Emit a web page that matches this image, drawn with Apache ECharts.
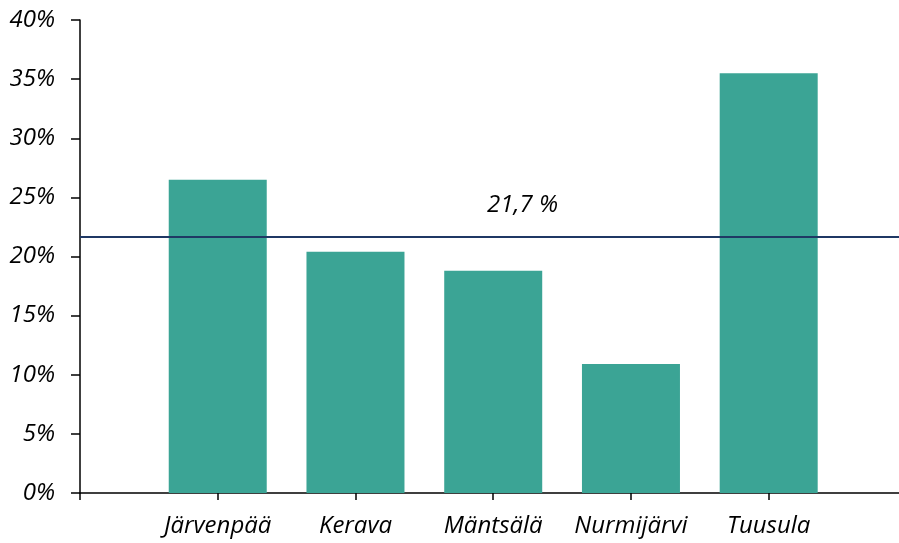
<!DOCTYPE html>
<html>
<head>
<meta charset="utf-8">
<script src="https://cdn.jsdelivr.net/npm/echarts@6/dist/echarts.min.js"></script>
<style>
  html, body { margin: 0; padding: 0; background: #fff; }
  #main { width: 899px; height: 543px; }
</style>
</head>
<body>
<div id="main"></div>
<script>
// kunnat ja osuudet (%)
var kunnat = ['Järvenpää', 'Kerava', 'Mäntsälä', 'Nurmijärvi', 'Tuusula'];
var osuudet = [26.5, 20.4, 18.8, 10.9, 35.5];
var keskiarvo = 21.7;
var yTicks = [0, 5, 10, 15, 20, 25, 30, 35, 40];

var myChart = echarts.init(document.getElementById('main'));

var tekstiTyyli = {
    fontFamily: 'Open Sans',
    fontStyle: 'italic',
    fontSize: 24,
    color: '#000'
};

// pylväät sijoitetaan kohtiin 1..5
var pylvaat = [];
for (var i = 0; i < kunnat.length; i++) {
    pylvaat.push([i + 1, osuudet[i]]);
}
var paikat = [];
for (var j = 0; j <= kunnat.length; j++) paikat.push(j);

var option = {
    animation: false,
    grid: {
        left: 80,
        right: 0,
        top: 20,
        bottom: 50
    },
    xAxis: {
        type: 'value',
        min: 0,
        max: 5.946,
        interval: 1,
        splitLine: { show: false },
        axisLine: { show: true, lineStyle: { color: '#000', width: 1.5 } },
        axisTick: { show: true, length: 7, customValues: paikat, lineStyle: { color: '#000', width: 1.5 } },
        axisLabel: Object.assign({
            margin: 21,
            customValues: paikat.slice(1),
            formatter: function (v) {
                return kunnat[Math.round(v) - 1] || '';
            }
        }, tekstiTyyli)
    },
    yAxis: {
        type: 'value',
        min: 0,
        max: 40,
        interval: 5,
        splitLine: { show: false },
        axisLine: { show: true, lineStyle: { color: '#000', width: 1.5 } },
        axisTick: { show: true, length: 9, lineStyle: { color: '#000', width: 1.5 } },
        axisLabel: Object.assign({
            margin: 25,
            formatter: '{value}%'
        }, tekstiTyyli)
    },
    series: [
        {
            type: 'bar',
            data: pylvaat,
            barWidth: 98,
            itemStyle: { color: '#3BA495' },
            markLine: {
                silent: true,
                symbol: 'none',
                data: [{ yAxis: keskiarvo }],
                lineStyle: { color: '#1F3864', width: 2, type: 'solid' },
                label: Object.assign({
                    position: 'middle',
                    distance: 19,
                    offset: [33, 0],
                    formatter: String(keskiarvo).replace('.', ',') + ' %'
                }, tekstiTyyli)
            }
        }
    ]
};

myChart.setOption(option);
</script>
</body>
</html>
